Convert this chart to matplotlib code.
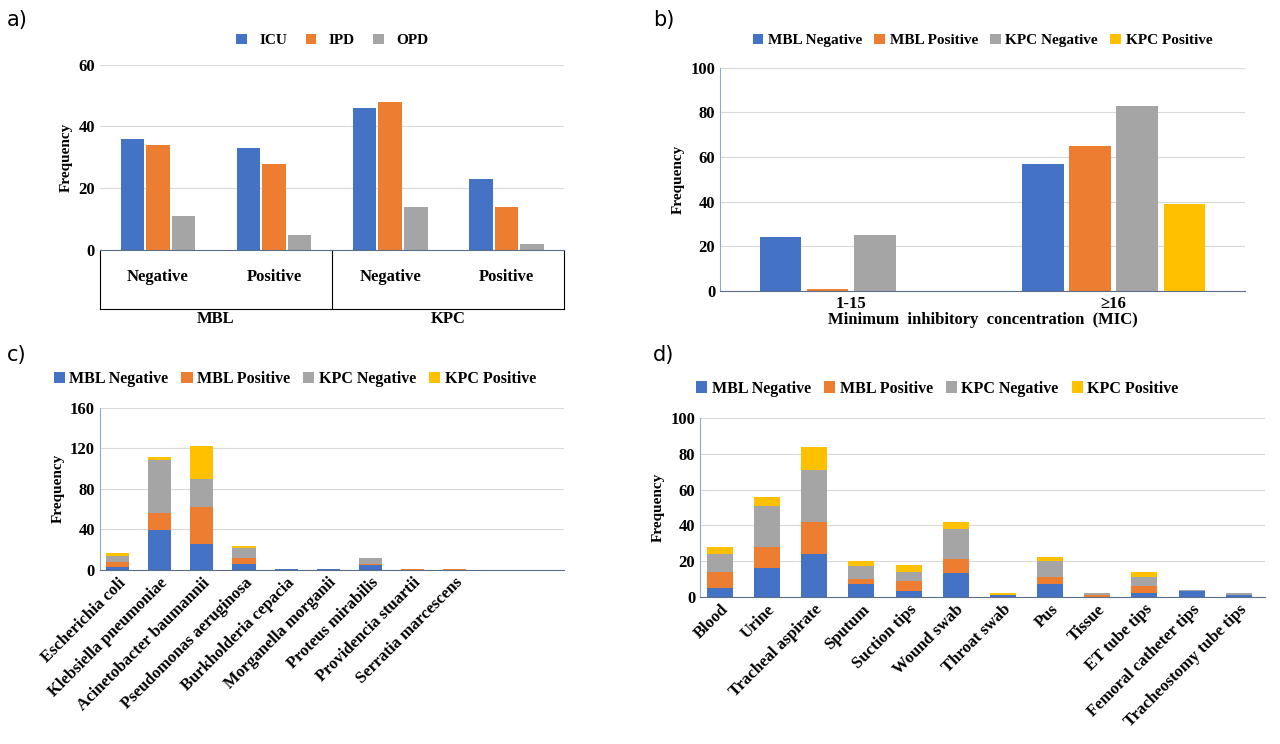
import numpy as np
import matplotlib
matplotlib.use("Agg")
import matplotlib.pyplot as plt
from matplotlib.transforms import blended_transform_factory

plt.rcParams['font.family'] = ['Liberation Serif', 'DejaVu Serif']
plt.rcParams['font.weight'] = 'bold'

BLUE, ORANGE, GRAY, YELLOW = "#4472C4", "#ED7D31", "#A5A5A5", "#FFC000"
AXC = "#8EA9C9"

# a) ward by group
a_groups = ["Negative", "Positive", "Negative", "Positive"]
a_top = ["MBL", "KPC"]
a_icu = [36, 33, 46, 23]
a_ipd = [34, 28, 48, 14]
a_opd = [11, 5, 14, 2]

# b) MIC
b_cats = ["1-15", "≥16"]
b_mbl_neg = [24, 57]
b_mbl_pos = [1, 65]
b_kpc_neg = [25, 83]
b_kpc_pos = [0, 39]

# c) organisms
c_cats = ["Escherichia coli", "Klebsiella pneumoniae", "Acinetobacter baumannii",
          "Pseudomonas aeruginosa", "Burkholderia cepacia", "Morganella morganii",
          "Proteus mirabilis", "Providencia stuartii", "Serratia marcescens"]
c_mbl_neg = [3, 39, 26, 6, 1, 1, 5, 0, 0]
c_mbl_pos = [5, 17, 36, 6, 0, 0, 1, 1, 1]
c_kpc_neg = [6, 52, 28, 10, 0, 0, 6, 0, 0]
c_kpc_pos = [3, 3, 32, 2, 0, 0, 0, 0, 0]

# d) specimens
d_cats = ["Blood", "Urine", "Tracheal aspirate", "Sputum", "Suction tips", "Wound swab",
          "Throat swab", "Pus", "Tissue", "ET tube tips", "Femoral catheter tips",
          "Tracheostomy tube tips"]
d_mbl_neg = [5, 16, 24, 7, 3, 13, 1, 7, 0, 2, 3, 1]
d_mbl_pos = [9, 12, 18, 3, 6, 8, 0, 4, 1, 4, 0, 0]
d_kpc_neg = [10, 23, 29, 7, 5, 17, 0, 9, 1, 5, 1, 1]
d_kpc_pos = [4, 5, 13, 3, 4, 4, 1, 2, 0, 3, 0, 0]

fig = plt.figure(figsize=(12.8, 7.44), dpi=100)


def style(ax, ymax, step):
    ax.set_ylim(0, ymax)
    ax.set_yticks(np.arange(0, ymax + 1, step))
    ax.yaxis.grid(True, color="#D9D9D9", lw=0.8)
    ax.set_axisbelow(True)
    for s in ["top", "right"]:
        ax.spines[s].set_visible(False)
    ax.spines["left"].set_color(AXC)
    ax.spines["bottom"].set_color("#5B6F8A")
    ax.tick_params(length=0, labelsize=12)
    ax.set_ylabel("Frequency", fontsize=11, fontweight="bold")


# ---- a
ax = fig.add_axes([0.078, 0.664, 0.363, 0.249])
x = np.arange(4)
w = 0.22
ax.bar(x - w, a_icu, w * 0.92, color=BLUE, label="ICU")
ax.bar(x, a_ipd, w * 0.92, color=ORANGE, label="IPD")
ax.bar(x + w, a_opd, w * 0.92, color=GRAY, label="OPD")
style(ax, 60, 20)
ax.spines["left"].set_visible(False)
ax.set_xlim(-0.5, 3.5)
ax.set_xticks([])
tr = blended_transform_factory(ax.transData, ax.transAxes)
for i, g in enumerate(a_groups):
    ax.text(i, -0.1, g, transform=tr, ha="center", va="top", fontsize=12, fontweight="bold")
for j, t in enumerate(a_top):
    ax.text(2 * j + 0.5, -0.33, t, transform=tr, ha="center", va="top", fontsize=12, fontweight="bold")
for xv in [-0.5, 1.5, 3.5]:
    ax.plot([xv, xv], [0, -0.32], transform=tr, color="black", lw=0.8, clip_on=False)
ax.plot([-0.5, 3.5], [-0.32, -0.32], transform=tr, color="black", lw=0.8, clip_on=False)
ax.legend(loc="lower center", bbox_to_anchor=(0.5, 1.02), ncol=3, frameon=False,
          fontsize=11, handlelength=0.7, handleheight=0.7, columnspacing=1.2)
fig.text(0.005, 0.965, "a)", fontsize=15, fontweight="normal", family="DejaVu Sans")

# ---- b
ax = fig.add_axes([0.5625, 0.609, 0.41, 0.30])
x = np.arange(2)
w = 0.18
for k, (vals, c, lab) in enumerate([(b_mbl_neg, BLUE, "MBL Negative"), (b_mbl_pos, ORANGE, "MBL Positive"),
                                     (b_kpc_neg, GRAY, "KPC Negative"), (b_kpc_pos, YELLOW, "KPC Positive")]):
    ax.bar(x + (k - 1.5) * w, vals, w * 0.88, color=c, label=lab)
style(ax, 100, 20)
ax.set_xlim(-0.5, 1.5)
ax.set_xticks(x)
ax.set_xticklabels(b_cats, fontsize=12, fontweight="bold")
ax.set_xlabel("Minimum  inhibitory  concentration  (MIC)", fontsize=12, fontweight="bold", labelpad=0)
ax.legend(loc="lower center", bbox_to_anchor=(0.5, 1.03), ncol=4, frameon=False,
          fontsize=11, handlelength=0.7, handleheight=0.7, columnspacing=0.8, handletextpad=0.3)
fig.text(0.51, 0.965, "b)", fontsize=15, fontweight="normal", family="DejaVu Sans")


def stacked(ax, cats, series, xmax):
    x = np.arange(len(cats))
    bottom = np.zeros(len(cats))
    for vals, c, lab in series:
        ax.bar(x, vals, 0.55, bottom=bottom, color=c, label=lab)
        bottom += np.array(vals)
    ax.set_xlim(-0.42, xmax)
    ax.set_xticks(x)
    ax.set_xticklabels(cats, rotation=45, ha="right", rotation_mode="anchor", fontsize=11.5, fontweight="bold")
    ax.legend(loc="lower center", bbox_to_anchor=(0.42, 1.04), ncol=4, frameon=False,
              fontsize=11.5, handlelength=0.7, handleheight=0.7, columnspacing=0.8, handletextpad=0.3)


labs = ["MBL Negative", "MBL Positive", "KPC Negative", "KPC Positive"]
cols = [BLUE, ORANGE, GRAY, YELLOW]

# ---- c
ax = fig.add_axes([0.078, 0.234, 0.363, 0.218])
stacked(ax, c_cats, list(zip([c_mbl_neg, c_mbl_pos, c_kpc_neg, c_kpc_pos], cols, labs)), 10.6)
style(ax, 160, 40)
fig.text(0.005, 0.515, "c)", fontsize=15, fontweight="normal", family="DejaVu Sans")

# ---- d
ax = fig.add_axes([0.547, 0.198, 0.441, 0.24])
stacked(ax, d_cats, list(zip([d_mbl_neg, d_mbl_pos, d_kpc_neg, d_kpc_pos], cols, labs)), 11.55)
style(ax, 100, 20)
fig.text(0.51, 0.515, "d)", fontsize=15, fontweight="normal", family="DejaVu Sans")

fig.savefig("out.png", dpi=100)
